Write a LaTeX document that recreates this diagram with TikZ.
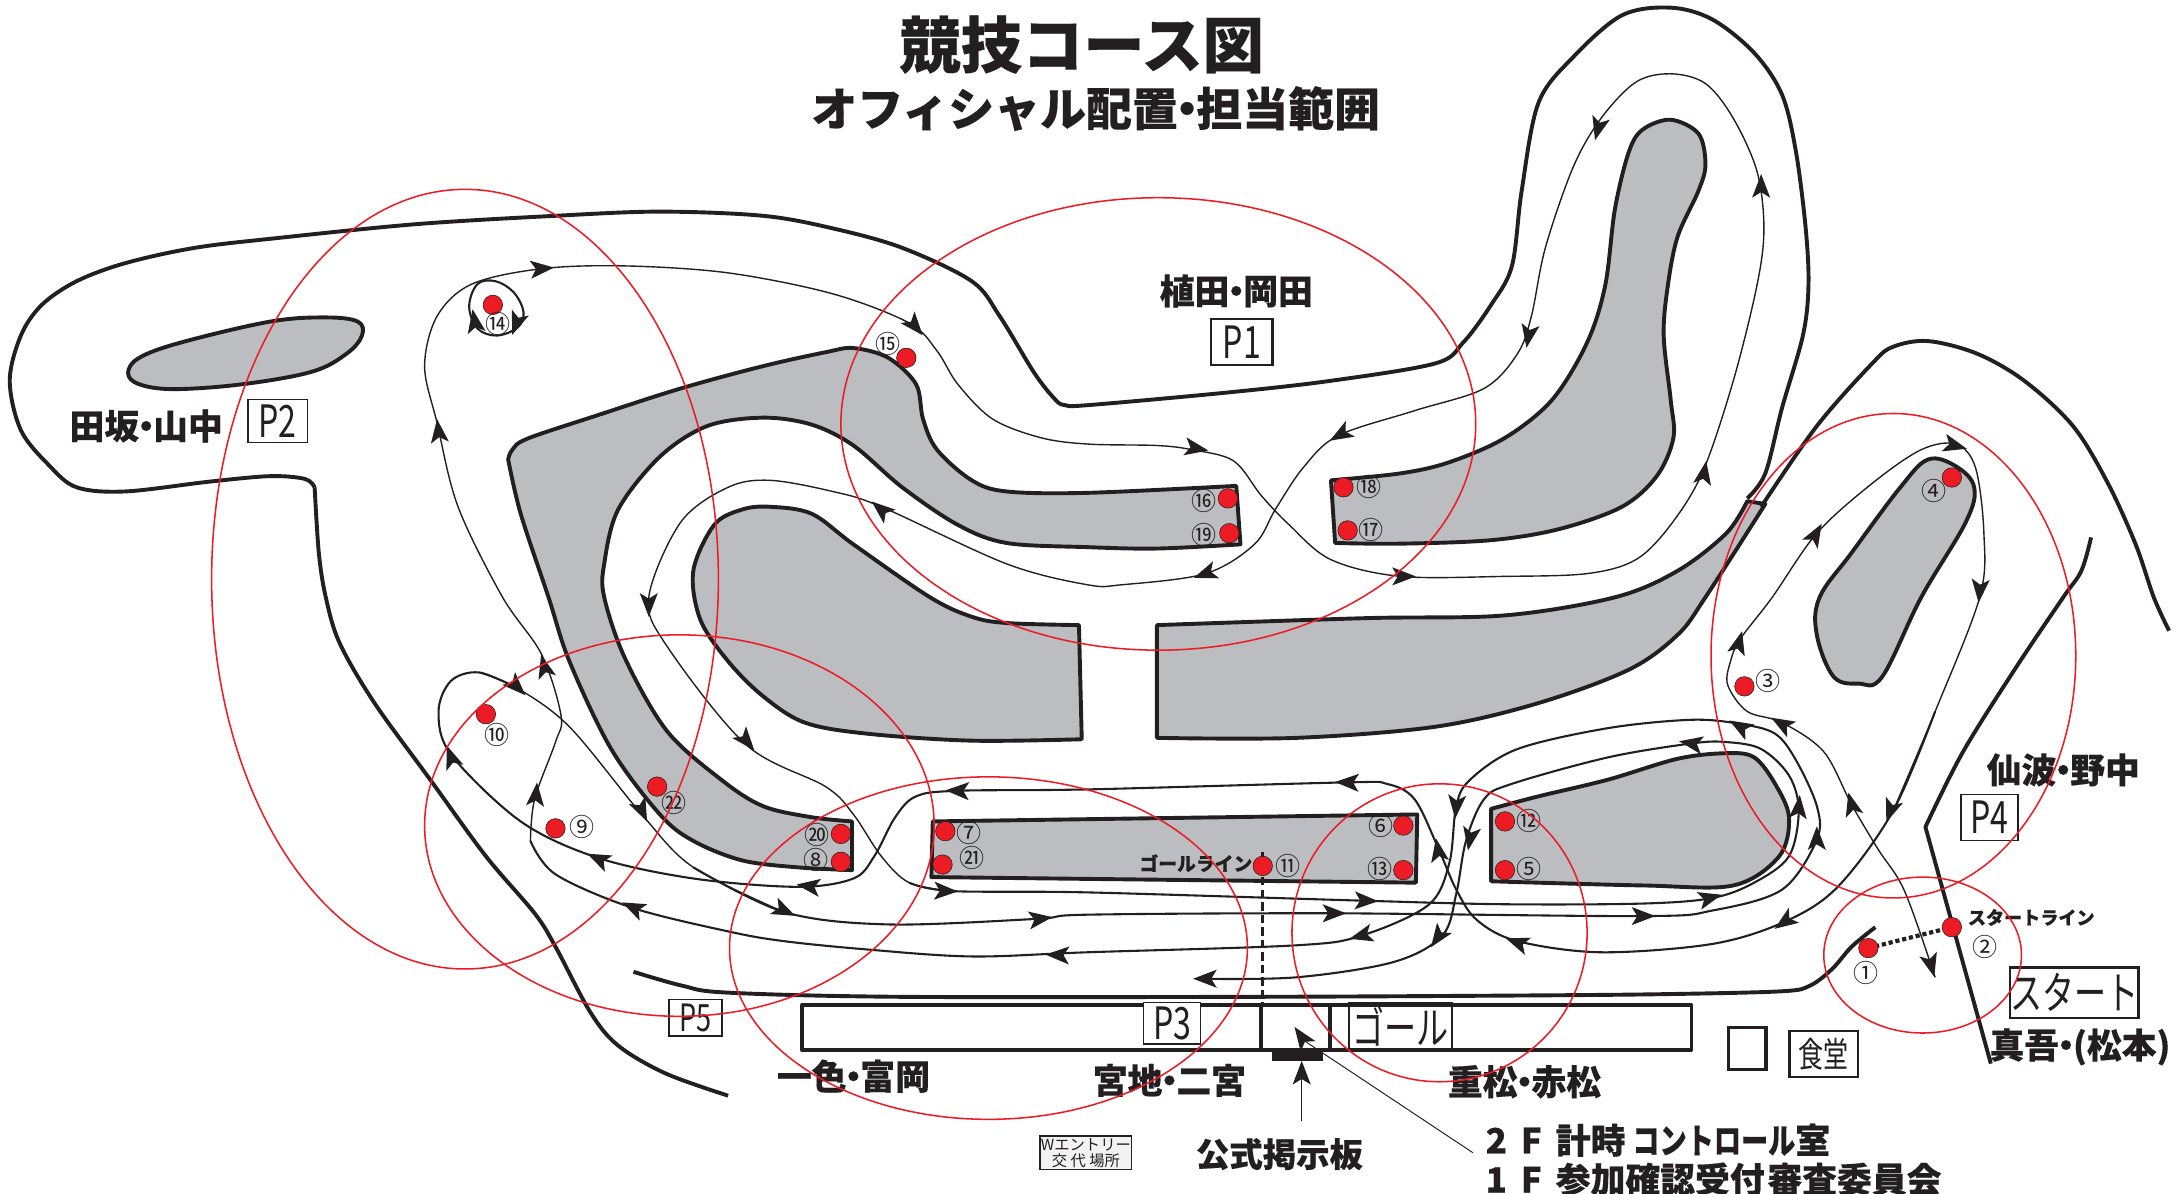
\documentclass[tikz,border=0pt]{standalone}
\usepackage{fontspec}
\newfontfamily\cjk[BoldFeatures={FakeBold=0.35}]{Noto Sans CJK JP}
\setmainfont{Noto Sans CJK JP}
\definecolor{gr}{HTML}{BBBDC0}
\definecolor{rd}{HTML}{ED1C24}
\definecolor{ink}{HTML}{231F20}
\newcommand\dt{\kern-.3em・\kern-.3em}
\newcommand\sq[1]{\scalebox{.72}[1]{#1}}
\tikzset{
 thick line/.style={draw=ink,line width=2.8pt,line join=round},
 gshape/.style={draw=ink,fill=gr,line width=2.8pt,line join=round},
 thin line/.style={draw=ink,line width=1pt},
 mid line/.style={draw=ink,line width=1.5pt},
 zone/.style={draw=rd,line width=1.1pt},
 lbl/.style={inner sep=0pt,text=ink,font=\cjk\bfseries\fontsize{25}{25}\selectfont},
 pbox/.style={draw=ink,line width=1pt,fill=white,inner sep=0pt,text=ink},
 num/.style={inner sep=0pt,text=ink,font=\cjk\fontsize{18}{18}\selectfont},
}
\newcommand\ah[3]{\fill[ink,shift={(#1,#2)},rotate=#3] (9,0)--(-8,-6.5)--(-4,0)--(-8,6.5)--cycle;}
\newcommand\rdot[2]{\draw[fill=rd,draw=ink,line width=.4pt] (#1,#2) circle (7);}
\newcommand\cn[3]{\node[num] at (#1,#2) {#3};}
\begin{document}
\begin{tikzpicture}[x=1pt,y=-1pt]
\useasboundingbox (0,0) rectangle (1563,857.6);
\fill[white] (0,0) rectangle (1563,857.6);
% gray shapes
\path[gshape] plot[smooth cycle,tension=.6] coordinates {(92,268)(100,257)(130,246)(194,231)(234,228)(257,231)(260,241)(249,254)(224,267)(174,276)(125,279.5)(100,276)};
\path[gshape] plot[smooth,tension=.55] coordinates {(365,330)(368,323)(379,315)(430,298)(489,279)(548,263)(593,253)(613,250)(638,257)(658,276)(663,301)(673,323)(698,345)(723,353)(781,354)(888,349)} -- plot[smooth,tension=.55] coordinates {(891,391)(831,394)(781,393)(723,390)(688,377)(648,350)(613,320)(583,305)(548,300)(508,306)(474,328)(444,366)(434,405)(434,429)(449,473)(479,525)(518,560)(548,579)(583,587)(612,590)} -- plot[smooth,tension=.55] coordinates {(612,625)(573,623)(533,618)(498,604)(474,585)(439,538)(409,475)(394,429)(374,369)(365,330)} -- cycle;
\path[gshape] plot[smooth,tension=.55] coordinates {(775,449)(723,447.5)(698,443)(668,429)(613,391)(583,369)(553,364)(533,366)(513,377)(498,410)(503,445)(523,475)(548,500)(578,519)(623,527)(698,532)(777,531)} -- cycle;
\path[gshape] plot[smooth,tension=.55] coordinates {(956,345)(1006,340)(1041,332)(1081,314.5)(1115,287)(1140,246)(1153,205)(1160,150)(1170,109)(1180,93)(1200,86)(1220,96)(1225,118)(1220,137)(1205,170)(1198,205)(1195,241)(1200,287)(1202,314.5)(1190,342)(1165,364)(1120,380)(1071,388)(1006,390.5)(959,390)} -- cycle;
\path[gshape] plot[smooth cycle,tension=.6] coordinates {(1385,330)(1405,335)(1418,350)(1412,375)(1380,429)(1352,486)(1335,491)(1317,486)(1305,456)(1307,429)(1330,397)(1365,350)};
\path[gshape] plot[smooth,tension=.55] coordinates {(831,449)(981,444)(1081,442)(1160,429)(1205,410)(1240,383)(1255,360)} -- (1268,362) -- plot[smooth,tension=.55] coordinates {(1268,362)(1225,429)(1205,456)(1170,481)(1105,505)(1031,522)(931,530)(831,530)} -- cycle;
\path[gshape] (670,590)--(1018,585)--(1017,634)--(669,630)--cycle;
\path[gshape] plot[smooth,tension=.55] coordinates {(1071,581)(1105,572)(1155,560)(1205,545)(1240,541)(1260,544)(1275,563)(1285,587)(1278,615)(1245,636)(1180,636)(1071,633)} -- cycle;
% thick boundaries
\path[thick line] plot[smooth,tension=.55] coordinates {(523,787)(478,771)(444,751)(424,727)(399,680)(384,656)(349,615)(309,560)(269,505)(244,462)(234,429)(229,397)(226,350)};
\path[thick line] plot[smooth,tension=.55] coordinates {(226,350)(219,344)(194,342)(150,346)(90,353)(55,350)(35,334)(15,309)(7,273.5)(15,241)(30,219)(55,202)(90,189)(140,178)(199,171)(299,161)(399,155)(474,152)(548,155)(598,164)(648,178)(698,202)(718,227)(743,268)(758,287)(765,291)(781.5,291)(881,282)(956,273.5)(1031,261)(1051,246)(1071,219)(1086,191)(1093,137)(1105,74)(1130,41)(1165,11)(1200,5.5)(1230,14)(1260,38)(1280,68)(1290,109)(1297,164)(1299,205)(1295,241)(1280,293)(1268,340)(1255,358)};
\path[thick line] plot[smooth,tension=.55] coordinates {(1265,364)(1305,306)(1345,260.8)(1360,249)(1385,245)(1420,254)(1454,273.5)(1489,306)(1514,347)(1534,391)(1547,429)(1558,453)};
\path[thick line] plot[smooth,tension=.55] coordinates {(1502,386)(1495,410)(1482,429)(1449,478)(1410,540)(1383,594)} -- (1430,764);
\path[thick line] plot[smooth,tension=.55] coordinates {(455,698)(490,708)(523,713)(648,716)(900,716)(1100,715)(1200,714)(1280,712)(1300,708)(1316,696)(1330,680)(1347,666)};
\path[thick line] (576,722) rectangle (1215,754);
\path[thick line] (906,722)--(906,754) (955,722)--(955,754);
\fill[ink] (914,755) rectangle (950,762);
% thin track
\path[thin line] plot[smooth,tension=.55] coordinates {(381,604)(384,574)(399,533)(403,514)(389,470)(361,429)(329,364)(314,304)(305,263)(314,227)(339,204)(389,193)(449,191)(523,196)(598,211)(653,232)(673,252)(688,276)(713,301)(748,314.5)(782,319)(831,320)(856,323)(886,331)(906,356)(926,377)(956,402)(1006,414)(1081,414)(1140,412)(1175,402)(1200,377)(1223,339)(1245,273.5)(1262,205)(1267,164)(1262,123)(1245,85)(1225,60)(1200,53)(1175,59)(1150,85)(1130,120)(1110,178)(1100,227)(1090,254)(1066,279)(1016,295)(961,313)(936,336)(916,366)(901,391)(866,412)(806,420)(781,420)(723,405)(633,364)(598,353)(553,345)(523,350)(489,375)(466,429)(479,464)(536,535)(593,565)(613,585)(633,615)(653,634)(683,640)};
\path[mid line] plot[smooth,tension=.55] coordinates {(653,634)(683,640)(781.5,641)(981,647)(1081,649.5)(1180,649)(1230,645)(1260,634)(1285,615)(1292,582)(1285,557)(1265,538)(1240,533)(1215,534)(1155,544)(1086,563)(1066,574)(1053,604)(1046,642)(1036,672)(1001,691)(931,702)(861,703)};
\path[thin line] plot[smooth,tension=.55] coordinates {(1390,702)(1368,640)(1349,610)(1330,578)(1310,540)(1280,519)(1255,511)(1241,492)(1243,475)(1250,459)(1273,429)(1305,383)(1345,347)(1380,323)(1405,319)(1419,336)(1425,383)(1422,429)(1390,511)(1360,582)};
\path[mid line] plot[smooth,tension=.55] coordinates {(1390,511)(1360,582)(1320,637)(1282,662)(1230,678)(1150,684)(1090,676)(1061,661)(1046,639)(1033,609)(1016,574)(996,563)(966,562)(782,567)(688,568)(658,572)(643,587)(628,615)(613,631)(573,637)(498,631)(429,616)(374,590)(324,542)(315,511)(324,489)(344,483)(371,494)};
\path[thin line] plot[smooth,tension=.55] coordinates {(344,483)(371,494)(409,522)(461,585)(498,623)(563,655)};
\path[mid line] plot[smooth,tension=.55] coordinates {(498,623)(563,655)(638,664)(745,660)(781,657)(956,656)(1180,658)(1230,654)(1280,639)(1305,603)(1305,579)(1290,546)(1275,527)(1250,520)(1215,517)(1155,523)(1090,538)(1056,560)(1046,579)(1041,620)(1026,650)(978,672)(931,679)(781,684)(698,687)(623,682)(563,676)(523,669)(454,652)(399,628)(381,604)};
\path[mid line] plot[smooth cycle,tension=.6] coordinates {(343,204)(356,202)(369,210)(376,224)(372,235)(357,241)(343,236)(337,220)};
% arrowheads
\ah{389}{193}{5}\ah{657}{234}{-50}\ah{315}{310}{97}\ah{371}{232}{-110}\ah{341}{231}{100}\ah{633}{366}{140}
\ah{859}{322}{-10}\ah{1008}{414}{0}\ah{1224}{340}{80}\ah{1265}{134}{90}\ah{1148}{92}{-105}\ah{1098}{241}{-100}
\ah{963}{312}{210}\ah{866}{412}{200}\ah{1404}{320}{-15}\ah{1304}{384}{60}\ah{1422}{424}{-95}
\ah{466}{434}{-90}\ah{536}{532}{-50}\ah{688}{568}{178}\ah{391}{479}{105}\ah{371}{493}{-45}\ah{324}{544}{110}\ah{385}{571}{85}\ah{461}{582}{-65}\ah{430}{617}{155}\ah{581}{636.6}{172}\ah{455}{652}{155}\ah{563}{654}{-25}\ah{679}{640}{-2}\ah{747}{660}{8}\ah{760}{686}{178}
\ah{968}{562}{178}\ah{981}{647}{-2}\ah{958}{656}{0}\ah{1180}{658}{0}\ah{1228}{645}{15}\ah{978}{672}{195}\ah{1033}{673}{235}\ah{866}{703}{180}\ah{1090}{677}{160}\ah{1282}{662}{215}\ah{1358}{582}{250}\ah{1305}{602.5}{90}\ah{1292}{580}{85}\ah{1215}{534}{170}\ah{1250}{522}{150}\ah{1280}{520}{150}\ah{1330}{578}{105}\ah{1387}{693}{-75}\ah{1249}{462}{75}\ah{1046}{579}{-95}\ah{1056}{602}{-100}\ah{1033}{611}{100}
% goal and start lines
\draw[ink,line width=2.4pt,dash pattern=on 6pt off 3pt] (907,612)--(907,721);
\draw[ink,line width=3pt,dotted] (1342,681)--(1402,666);
% dots
\foreach \a/\b in {354/219,651/257,882/358,883/383,965/350,968/381,1402/343,1253/493,349/513,399/595,472/565,604/599,604/619,679/597,677/621,1008/593,1008/625,907/622,1081/590,1081/625,1402/666,1342/681}{\rdot{\a}{\b}}
\cn{358}{233}{⑭}\cn{638}{247}{⑮}\cn{865}{360}{⑯}\cn{865}{384}{⑲}\cn{983}{350}{⑱}\cn{985}{381}{⑰}\cn{1389}{353}{④}\cn{1270}{489}{③}\cn{357}{528}{⑩}\cn{418}{594}{⑨}\cn{484}{577}{㉒}\cn{587}{600}{⑳}\cn{586}{618}{⑧}\cn{696}{598}{⑦}\cn{698}{616}{㉑}\cn{992}{593}{⑥}\cn{991}{624}{⑬}\cn{925}{622}{⑪}\cn{1098}{590}{⑫}\cn{1098}{624}{⑤}\cn{1426}{680}{②}\cn{1340}{699}{①}
% boxes and labels
\node[pbox,line width=1.8pt,minimum width=44pt,minimum height=33pt,font=\cjk\fontsize{32}{32}\selectfont] (p1) at (892,245.5) {\sq{P1}};
\node[pbox,minimum width=43pt,minimum height=31pt,font=\cjk\fontsize{32}{32}\selectfont] (p2) at (199.5,302.5) {\sq{P2}};
\node[pbox,minimum width=41pt,minimum height=33pt,font=\cjk\fontsize{32}{32}\selectfont] (p4) at (1429,587) {\sq{P4}};
\node[pbox,minimum width=38pt,minimum height=26pt,font=\cjk\fontsize{27}{27}\selectfont] (p5) at (499.5,731) {\sq{P5}};
\node[pbox,minimum width=41pt,minimum height=30pt,font=\cjk\fontsize{32}{32}\selectfont] (p3) at (842,735) {\sq{P3}};
\node[pbox,minimum width=74pt,minimum height=34pt,fill=none,font=\cjk\fontsize{32}{32}\selectfont] (gl) at (1006,737) {\sq{ゴール}};
\node[pbox,line width=1.6pt,minimum width=92pt,minimum height=36pt,font=\cjk\fontsize{32}{32}\selectfont] (st) at (1490,713) {\sq{スタート}};
\node[pbox,line width=1.8pt,minimum width=49pt,minimum height=33pt,font=\cjk\fontsize{25}{25}\selectfont] (sd) at (1310,757) {\sq{食堂}};
\node[pbox,line width=2.4pt,minimum width=27pt,minimum height=30pt] (em) at (1255,753) {};
\node[pbox,line width=.8pt,fill=gray!10,minimum width=66pt,minimum height=24pt,font=\cjk\fontsize{11}{11.5}\selectfont,align=center] (we) at (780,828) {Wエントリー\\交 代 場所};
\node[lbl] (l1) at (888,209) {植田\dt 岡田};
\node[lbl] (l2) at (105,306) {田坂\dt 山中};
\node[lbl] (l3) at (1482,553) {仙波\dt 野中};
\node[lbl] (l4) at (1494,752) {真吾\dt (松本)};
\node[lbl] (l5) at (613,773) {一色\dt 富岡};
\node[lbl] (l6) at (840,776) {宮地\dt 二宮};
\node[lbl] (l7) at (1095,777) {重松\dt 赤松};
\node[lbl,font=\cjk\bfseries\fontsize{24}{24}\selectfont] (l8) at (919,829) {公式掲示板};
\node[lbl,font=\cjk\bfseries\fontsize{13}{13}\selectfont] (l9) at (1459,659) {スタートライン};
\node[lbl,font=\cjk\bfseries\fontsize{13.5}{13.5}\selectfont] (l10) at (859,620) {ゴールライン};
\node[lbl,anchor=west] (l11) at (1067,819) {2\hspace{10pt}F\hspace{10pt}計時\hspace{5pt}\scalebox{.78}[1]{コントロール}室};
\node[lbl,anchor=west] (l12) at (1067,847) {1\hspace{10pt}F\hspace{10pt}参加確認受付\hspace{2pt}審査委員会};
\node[lbl,font=\cjk\bfseries\fontsize{44}{44}\selectfont] (t1) at (777,32) {競技コース図};
\node[lbl,font=\cjk\bfseries\fontsize{33}{33}\selectfont] (t2) at (787,78) {オフィシャル配置\dt 担当範囲};
\coordinate (c1) at (1058,828);
\coordinate (c2) at (935,805);
\draw[ink,line width=.7pt] (c1)--(936,747);\ah{935}{745}{125}
\draw[ink,line width=.7pt] (c2)--(935,772);\ah{935}{771}{90}
% zones
\path[zone] (334,416) ellipse (182 and 280);
\path[zone] (832,304.5) ellipse (228 and 162.5);
\path[zone] (488,593) ellipse (183 and 137);
\path[zone] (710,681) ellipse (186 and 123);
\path[zone] (1034,670) ellipse (106 and 107);
\path[zone] (1360,471) ellipse (131 and 174);
\path[zone] (1381,686) ellipse (71 and 56);
\end{tikzpicture}
\end{document}
